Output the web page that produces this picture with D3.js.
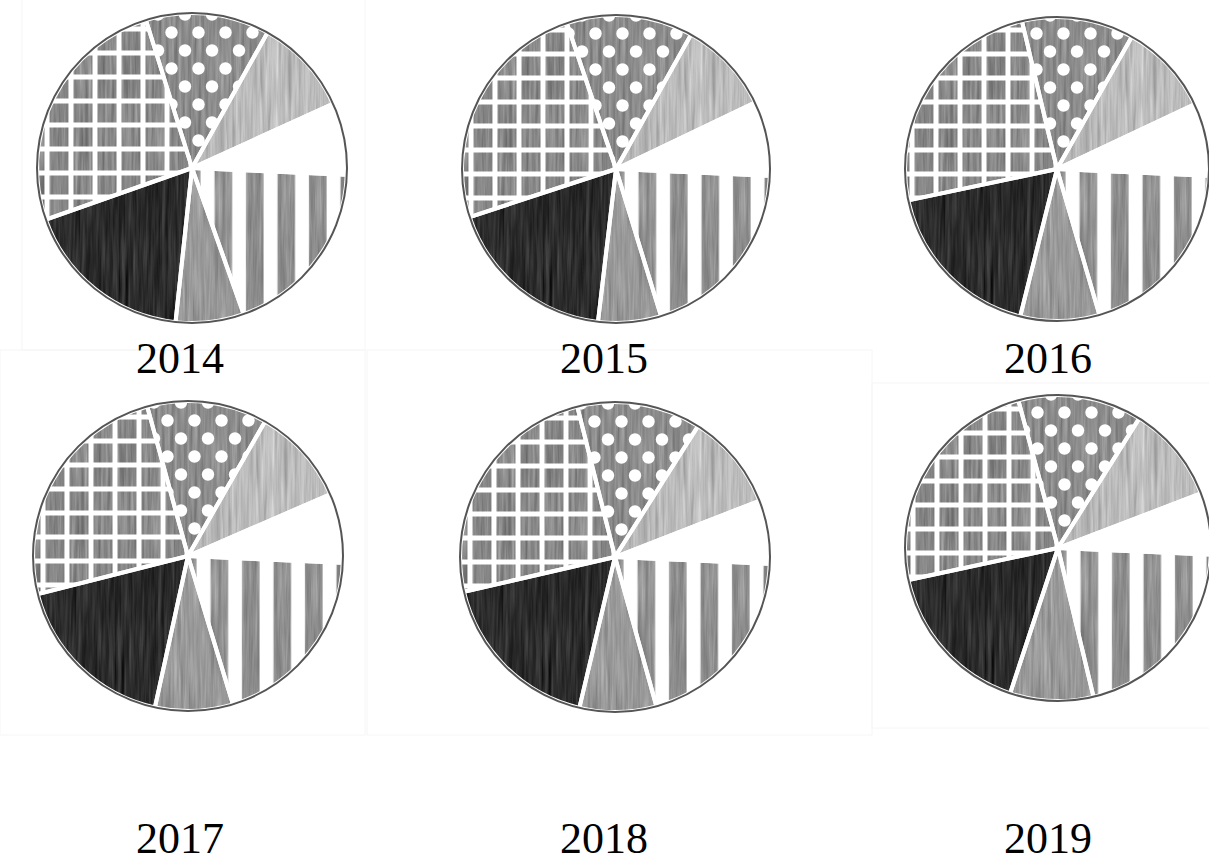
<!DOCTYPE html>
<meta charset="utf-8">
<style>
body { margin: 0; background: #fff; }
.label { font-family: "Liberation Serif", "Times New Roman", serif; font-size: 44px; fill: #000; }
.outline { fill: none; stroke: #555; stroke-width: 2px; }
.sep { fill: none; stroke: #fff; stroke-width: 4px; stroke-linejoin: round; }
</style>
<svg width="1209" height="868"></svg>
<script src="https://d3js.org/d3.v7.min.js"></script>
<script>

// shares (%), one value per year
var years        = ["2014", "2015", "2016", "2017", "2018", "2019"];
var stripeShare  = [18.9, 19.6, 19.8, 19.6, 20.0, 20.6];
var midGrayShare = [7.1, 6.6, 8.4, 8.1, 8.0, 8.8];
var darkShare    = [17.9, 18.1, 17.8, 17.6, 17.7, 16.6];
var gridShare    = [25.6, 24.9, 24.6, 24.7, 24.7, 24.2];
var dotShare     = [12.9, 13.3, 11.9, 12.5, 12.9, 13.1];
var lightShare   = [10.1, 9.8, 9.8, 10.2, 10.1, 10.3];
var whiteShare   = [7.5, 7.8, 7.7, 7.2, 6.6, 6.5];

var series = [
  {id: "stripes", values: stripeShare,  fill: "#8e8e8e", pattern: "stripes"},
  {id: "midgray", values: midGrayShare, fill: "#999999", pattern: null},
  {id: "dark",    values: darkShare,    fill: "#2c2c2c", pattern: null},
  {id: "grid",    values: gridShare,    fill: "#888888", pattern: "grid"},
  {id: "dots",    values: dotShare,     fill: "#8c8c8c", pattern: "dots"},
  {id: "light",   values: lightShare,   fill: "#bdbdbd", pattern: null},
  {id: "white",   values: whiteShare,   fill: "#ffffff", pattern: null}
];

// where each pie sits on the page
var layout = [
  {cx: 192, cy: 168, r: 155, lx: 180, ly: 373},
  {cx: 616, cy: 169, r: 154, lx: 604, ly: 373},
  {cx: 1057, cy: 169, r: 152, lx: 1048, ly: 373},
  {cx: 188, cy: 556, r: 155, lx: 180, ly: 853},
  {cx: 615, cy: 557, r: 155, lx: 604, ly: 853},
  {cx: 1058, cy: 548, r: 153, lx: 1048, ly: 853}
];

var svg = d3.select("svg");
var defs = svg.append("defs");

// scanned paper grain
var f = defs.append("filter").attr("id", "grain")
    .attr("x", 0).attr("y", 0).attr("width", 1).attr("height", 1)
    .attr("color-interpolation-filters", "sRGB");
f.append("feTurbulence").attr("type", "fractalNoise")
    .attr("baseFrequency", "0.3 0.015").attr("numOctaves", 3).attr("seed", 7).attr("result", "noise");
f.append("feColorMatrix").attr("in", "noise").attr("type", "matrix")
    .attr("values", "0.33 0.33 0.33 0 0  0.33 0.33 0.33 0 0  0.33 0.33 0.33 0 0  0 0 0 0 1")
    .attr("result", "gray");
f.append("feComposite").attr("in", "SourceGraphic").attr("in2", "gray")
    .attr("operator", "arithmetic").attr("k1", 0).attr("k2", 1).attr("k3", 0.55).attr("k4", -0.275)
    .attr("result", "mix");
f.append("feComposite").attr("in", "mix").attr("in2", "SourceGraphic").attr("operator", "in");

// white overlays
var pg = defs.append("pattern").attr("id", "grid").attr("patternUnits", "userSpaceOnUse")
    .attr("x", -3.5).attr("y", 2.5).attr("width", 24).attr("height", 24);
pg.append("rect").attr("width", 5).attr("height", 24).attr("fill", "#fff");
pg.append("rect").attr("width", 24).attr("height", 5).attr("fill", "#fff");

var pd = defs.append("pattern").attr("id", "dots").attr("patternUnits", "userSpaceOnUse")
    .attr("x", 0).attr("y", 0).attr("width", 27).attr("height", 36);
pd.append("circle").attr("cx", 6.5).attr("cy", 8.5).attr("r", 6.2).attr("fill", "#fff");
pd.append("circle").attr("cx", 20).attr("cy", 26.5).attr("r", 6.2).attr("fill", "#fff");

var ps = defs.append("pattern").attr("id", "stripes").attr("patternUnits", "userSpaceOnUse")
    .attr("x", 0).attr("y", 0).attr("width", 31.5).attr("height", 40);
ps.append("rect").attr("x", 8.5).attr("width", 14).attr("height", 40).attr("fill", "#fff");

// faint scan box edges
var boxes = [[22, -1, 343, 351], [0, 350, 365, 385], [367, 350, 505, 385], [872, 383, 340, 345]];
svg.selectAll(".box").data(boxes).enter().append("rect")
    .attr("class", "box")
    .attr("x", function(d) { return d[0]; }).attr("y", function(d) { return d[1]; })
    .attr("width", function(d) { return d[2]; }).attr("height", function(d) { return d[3]; })
    .attr("fill", "none").attr("stroke", "#f6f6f6").attr("stroke-width", 1);

var start = 92.5 * Math.PI / 180;
var pie = d3.pie()
    .sort(null)
    .value(function(d) { return d.value; })
    .startAngle(start)
    .endAngle(start + 2 * Math.PI);

years.forEach(function(year, i) {
  var L = layout[i];
  var arc = d3.arc().innerRadius(0).outerRadius(L.r);
  var data = series.map(function(s) {
    return {id: s.id, value: s.values[i], fill: s.fill, pattern: s.pattern};
  });
  var arcs = pie(data);

  var g = svg.append("g").attr("transform", "translate(" + L.cx + "," + L.cy + ")");

  g.selectAll(".base").data(arcs).enter().append("path")
      .attr("class", "base")
      .attr("d", arc)
      .attr("fill", function(d) { return d.data.fill; })
      .attr("filter", function(d) { return d.data.id === "white" ? null : "url(#grain)"; });

  g.selectAll(".pat").data(arcs.filter(function(d) { return d.data.pattern; })).enter().append("path")
      .attr("class", "pat")
      .attr("d", arc)
      .attr("fill", function(d) { return "url(#" + d.data.pattern + ")"; });

  g.selectAll(".sep").data(arcs).enter().append("path")
      .attr("class", "sep")
      .attr("d", arc);

  g.append("circle").attr("class", "outline").attr("r", L.r);

  svg.append("text")
      .attr("class", "label")
      .attr("x", L.lx)
      .attr("y", L.ly)
      .attr("text-anchor", "middle")
      .text(year);
});

</script>
